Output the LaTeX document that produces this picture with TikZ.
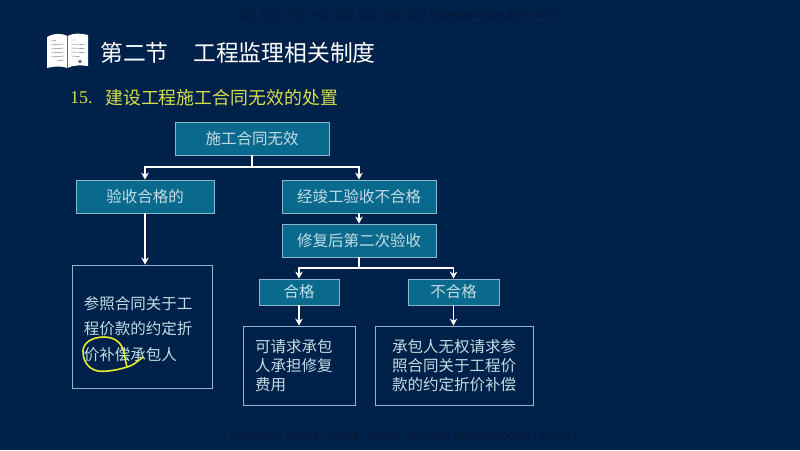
\documentclass[tikz,border=0pt]{standalone}
\usepackage{fontspec}
\setmainfont{Noto Sans CJK SC}
\newfontfamily\latinserif{Liberation Serif}
\usetikzlibrary{arrows.meta}
\definecolor{bgblue}{HTML}{00214A}
\definecolor{boxfill}{HTML}{0A6A8E}
\definecolor{boxline}{HTML}{8DB8CC}
\definecolor{softtext}{HTML}{C4DCE4}
\definecolor{headyellow}{HTML}{D6DE4E}
\definecolor{scribble}{HTML}{E6EC30}
\definecolor{markdark}{HTML}{0A1836}
\tikzset{
  x=1pt,y=-1pt,
  tealbox/.style={draw=boxline,line width=0.8pt,fill=boxfill,text=softtext,inner sep=0pt,font=\fontsize{15.5}{18}\selectfont},
  outlinebox/.style={draw=boxline,line width=0.9pt,inner sep=0pt},
  bodytext/.style={text=softtext,inner sep=0pt,align=left,font=\fontsize{15.5}{25.5}\selectfont},
  tighttext/.style={bodytext,anchor=west,font=\fontsize{15.5}{19}\selectfont},
  link/.style={draw=white,line width=1.2pt,-{Stealth[length=7pt,width=7.5pt]}},
  plainlink/.style={draw=white,line width=1.2pt},
  faintmark/.style={text=markdark,inner sep=0pt,font=\fontsize{8}{9}\selectfont},
  pageline/.style={draw=black!55,line width=0.4pt}
}
\begin{document}
\begin{tikzpicture}
\fill[bgblue] (0,0) rectangle (800,450);
\useasboundingbox (0,0) rectangle (800,450);

% watermarks
\node[faintmark] (wmtop) at (400,15.5) {二建、监理、一建、一造、二造、安全、消防、咨询、精讲课程持续联系QQ 微信：3849778};
\node[faintmark] (wmbot) at (400,436.5) {名师高频精华、真题押题、考点串讲、习题精考、考前三页纸、绝密押题联系QQ 微信：3849778};

% book icon
\fill[white] (47,37) .. controls (54,33) and (62,33) .. (67.5,36) .. controls (73,33) and (81,33) .. (88,35)
  -- (88,66) .. controls (81,65) and (73,65) .. (67.5,68) .. controls (62,66) and (54,66) .. (47,68) -- cycle;
\draw[draw=black!60,line width=0.5pt] (67.5,36) -- (67.5,68);
\draw[pageline] (51,41) -- (56,40.5) (51,45) -- (64,44) (51,49) -- (64,48) (51,53) -- (64,52) (51,57) -- (64,56) (57,61) -- (64,60);
\draw[pageline] (71,40) -- (76,40) (71,44) -- (85,44.5) (71,48) -- (85,48.5) (71,52) -- (85,52.5) (71,56) -- (80,56.5);
\fill[black!60] (80,61.5) circle (1.8);

% headings
\node[text=white,inner sep=0pt,anchor=west,font=\fontsize{22.8}{26}\selectfont] (title1) at (100,53) {第二节};
\node[text=white,inner sep=0pt,anchor=west,font=\fontsize{22.8}{26}\selectfont] (title2) at (193,53) {工程监理相关制度};
\node[text=headyellow,inner sep=0pt,anchor=west,font=\latinserif\fontsize{18}{20}\selectfont] (num) at (70,98) {15.};
\node[text=headyellow,inner sep=0pt,anchor=west,font=\fontsize{17.9}{20}\selectfont] (subtitle) at (105,98) {建设工程施工合同无效的处置};

% boxes
\node[tealbox,minimum width=154,minimum height=33] (top) at (252,138.5) {施工合同无效};
\node[tealbox,minimum width=138,minimum height=33] (ok) at (145,196.5) {验收合格的};
\node[tealbox,minimum width=154,minimum height=33] (fail) at (359,196.5) {经竣工验收不合格};
\node[tealbox,minimum width=154,minimum height=33] (repair) at (359,240.5) {修复后第二次验收};
\node[tealbox,minimum width=80,minimum height=26] (pass2) at (299,292) {合格};
\node[tealbox,minimum width=91,minimum height=26] (fail2) at (453.5,292) {不合格};
\node[outlinebox,minimum width=140,minimum height=123] (refbox) at (142,326.5) {};
\node[outlinebox,minimum width=112,minimum height=79] (claimbox) at (299,365.5) {};
\node[outlinebox,minimum width=158,minimum height=79] (noclaimbox) at (454,365.5) {};

% box texts
\node[bodytext] (reftext) at (138,329) {参照合同关于工\\程价款的约定折\\价补偿承包人};
\node[tighttext] (claimtext) at (255,365.5) {可请求承包\\人承担修复\\费用};
\node[tighttext] (noclaimtext) at (392,365.5) {承包人无权请求参\\照合同关于工程价\\款的约定折价补偿};

% connectors
\coordinate (j1) at (252,167);
\coordinate (j2) at (359,268);
\draw[plainlink] (top.south) -- (j1);
\draw[link] (j1) -| (ok.north);
\draw[link] (j1) -| (fail.north);
\draw[link] (ok.south) -- (refbox.north -| ok.south);
\draw[link] (fail.south) -- (repair.north);
\draw[plainlink] (repair.south) -- (j2);
\draw[link] (j2) -| (pass2.north);
\draw[link] (j2) -| (fail2.north);
\draw[link] (pass2.south) -- (claimbox.north);
\draw[link] (fail2.south) -- (noclaimbox.north -| fail2.south);

% hand-drawn mark
\draw[scribble,line width=1.6pt,line cap=round]
  (143,357) .. controls (137,362) and (132,366) .. (127,367)
  .. controls (118,370) and (106,372) .. (98,371)
  .. controls (88,369) and (83,361) .. (83,351)
  .. controls (83,343) and (92,337) .. (104,337)
  .. controls (116,337) and (122,344) .. (124,352)
  .. controls (125,358) and (126,363) .. (127,367);
\end{tikzpicture}
\end{document}
